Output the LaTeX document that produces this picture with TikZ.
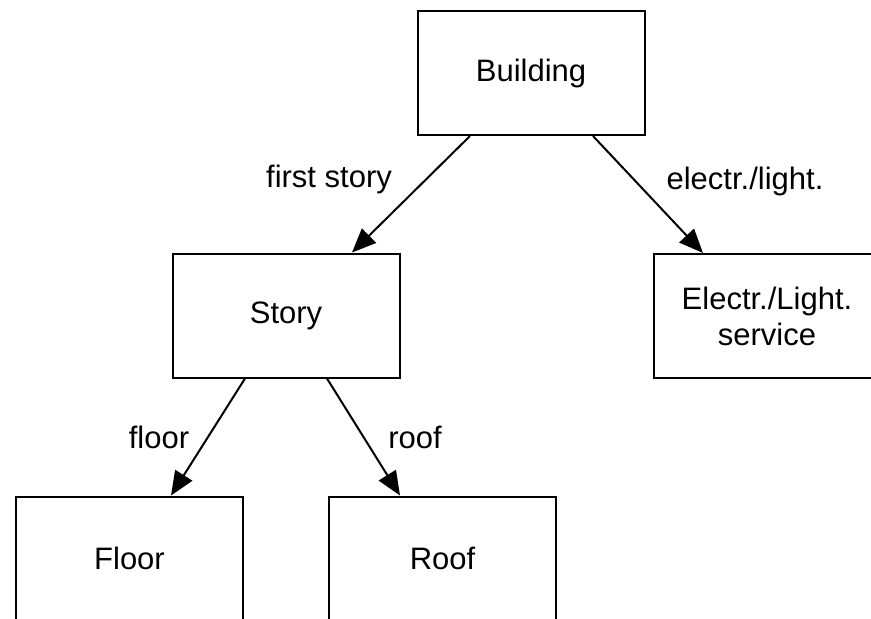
\documentclass[tikz,border=0pt]{standalone}
\usepackage{fontspec}
\setmainfont{Liberation Sans}
\usetikzlibrary{arrows.meta,positioning}

\begin{document}
\begin{tikzpicture}[x=1pt,y=-1pt,
  box/.style={draw=black, line width=2pt, minimum width=227pt, minimum height=124pt,
    inner sep=0pt, align=center, font=\fontsize{31}{36}\selectfont},
  lbl/.style={font=\fontsize{31}{36}\selectfont},
  link/.style={line width=2pt, -{Triangle[length=24pt,width=20pt]}}]

\useasboundingbox (0,0) rectangle (871,619);

\node[box] (building) at (531,73) {Building};
\node[box] (story) at (286,315.5) {Story};
\node[box] (elec) at (767,316) {Electr./Light.\\service};
\node[box] (floor) at (129.5,558.5) {Floor};
\node[box] (roof) at (442.5,558.5) {Roof};

\draw[link] ([xshift=-61pt]building.south) -- ([xshift=66pt]story.north);
\draw[link] ([xshift=62pt]building.south) -- ([xshift=-64pt]elec.north);
\draw[link] ([xshift=-41pt]story.south) -- ([xshift=41.5pt]floor.north);
\draw[link] ([xshift=41pt]story.south) -- ([xshift=-42.5pt]roof.north);

\node[lbl] (firststory) at (329,179) {first story};
\node[lbl] (electrlight) at (745,181) {electr./light.};
\node[lbl] (floorlbl) at (159,437) {floor};
\node[lbl] (rooflbl) at (415,437) {roof};

\end{tikzpicture}
\end{document}
